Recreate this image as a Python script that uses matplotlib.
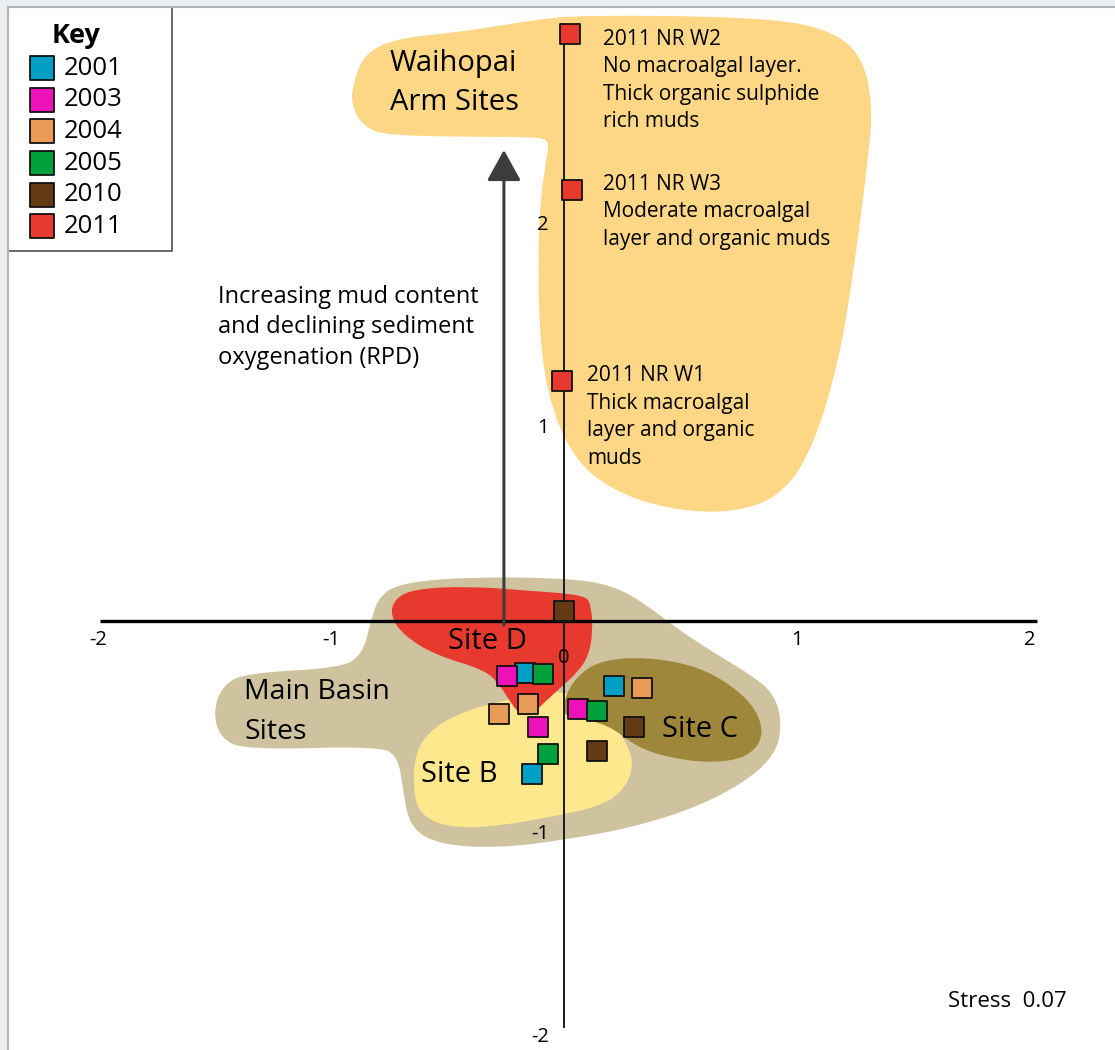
import numpy as np
import matplotlib
matplotlib.use('Agg')
import matplotlib.pyplot as plt
from matplotlib.path import Path
from matplotlib.patches import PathPatch, Rectangle

plt.rcParams['font.family'] = ['Open Sans', 'DejaVu Sans']

# ---- MDS ordination scores, per year (3 sites each) ----
years = ['2001', '2003', '2004', '2005', '2010', '2011']
year_colours = ['#00a0c6', '#ee10b8', '#e89a57', '#00a03c', '#623a14', '#e8392f']

x_2001 = [-0.167, -0.137, 0.215]
y_2001 = [-0.256, -0.754, -0.320]
x_2003 = [-0.245, -0.112, 0.060]
y_2003 = [-0.271, -0.522, -0.433]
x_2004 = [-0.155, -0.279, 0.335]
y_2004 = [-0.409, -0.458, -0.330]
x_2005 = [-0.090, -0.069, 0.142]
y_2005 = [-0.261, -0.655, -0.443]
x_2010 = [0.000, 0.300, 0.142]
y_2010 = [0.049, -0.522, -0.640]
x_2011 = [0.026, 0.034, -0.009]   # NR W2, NR W3, NR W1
y_2011 = [2.892, 2.123, 1.182]

# ---- hand drawn groupings (outline vertices, MDS units) ----
waihopai_x = [-0.910, -0.858, -0.712, -0.442, -0.129, 0.077, 0.807, 1.116, 1.275, 1.326,
              1.305, 1.240, 1.180, 1.077, 0.948, 0.742, 0.451, 0.202, 0.034, -0.077,
              -0.112, -0.107, -0.077, -0.064, -0.090, -0.172, -0.755, -0.858, -0.910]
waihopai_y = [2.631, 2.798, 2.872, 2.901, 2.961, 2.985, 2.975, 2.926, 2.798, 2.552,
              2.271, 1.695, 1.286, 0.877, 0.631, 0.532, 0.547, 0.645, 0.808, 1.123,
              1.532, 2.025, 2.271, 2.355, 2.379, 2.384, 2.389, 2.433, 2.532]

basin_x = [-1.506, -1.468, -1.369, -0.961, -0.867, -0.833, -0.798, -0.704, -0.416, 0.004,
           0.210, 0.356, 0.476, 0.639, 0.811, 0.906, 0.936, 0.906, 0.777, 0.562,
           0.283, -0.004, -0.275, -0.532, -0.661, -0.691, -0.712, -0.790, -1.369, -1.476]
basin_y = [-0.448, -0.320, -0.256, -0.232, -0.167, -0.020, 0.118, 0.187, 0.217, 0.212,
           0.177, 0.079, -0.030, -0.153, -0.271, -0.365, -0.512, -0.660, -0.793, -0.921,
           -1.020, -1.079, -1.118, -1.103, -1.020, -0.833, -0.670, -0.616, -0.635, -0.576]

site_b_x = [-0.648, -0.639, -0.567, -0.416, -0.245, -0.103, 0.013, 0.112, 0.206, 0.283,
            0.296, 0.249, 0.155, -0.017, -0.275, -0.489, -0.618]
site_b_y = [-0.833, -0.645, -0.527, -0.438, -0.389, -0.350, -0.350, -0.414, -0.498, -0.626,
            -0.734, -0.842, -0.911, -0.956, -1.010, -1.020, -0.956]

site_d_x = [-0.747, -0.725, -0.639, -0.416, -0.133, 0.090, 0.116, 0.124, 0.107, 0.060,
            -0.017, -0.082, -0.137, -0.180, -0.223, -0.275, -0.339, -0.554, -0.691]
site_d_y = [0.030, 0.113, 0.158, 0.172, 0.148, 0.128, 0.079, -0.044, -0.167, -0.251,
            -0.330, -0.399, -0.458, -0.468, -0.414, -0.315, -0.241, -0.167, -0.069]

site_c_x = [-0.004, 0.009, 0.069, 0.167, 0.356, 0.571, 0.725, 0.828, 0.858, 0.790,
            0.639, 0.455, 0.313, 0.210, 0.112, 0.026]
site_c_y = [-0.448, -0.355, -0.256, -0.192, -0.177, -0.222, -0.320, -0.438, -0.571, -0.670,
            -0.700, -0.675, -0.621, -0.527, -0.488, -0.478]

tick_vals = [-2, -1, 1, 2]


def blob(ax, xs, ys, colour, z):
    # closed smooth outline: quadratic curves through the edge midpoints
    pts = np.column_stack([xs, ys])
    mids = (pts + np.roll(pts, -1, axis=0)) / 2
    verts = [mids[-1]]
    codes = [Path.MOVETO]
    for i in range(len(pts)):
        verts += [pts[i], mids[i]]
        codes += [Path.CURVE3, Path.CURVE3]
    ax.add_patch(PathPatch(Path(verts, codes), facecolor=colour, edgecolor='none', zorder=z))


fig = plt.figure(figsize=(11.15, 10.5), dpi=100)
ax = fig.add_axes([0, 0, 1, 1])
ax.set_xlim(-2.421, 2.365)
ax.set_ylim(-2.113, 3.059)
ax.axis('off')

# page frame
fig.patches.append(Rectangle((0, 1 - 7 / 1050), 1, 7 / 1050, transform=fig.transFigure,
                             facecolor='#e9eef3', edgecolor='none', zorder=0))
fig.patches.append(Rectangle((0, 0), 8 / 1115, 1, transform=fig.transFigure,
                             facecolor='#e9eef3', edgecolor='none', zorder=0))
fig.lines.append(plt.Line2D([8 / 1115, 1], [1 - 7 / 1050] * 2, transform=fig.transFigure,
                            color='#b4b4b4', lw=1.5))
fig.lines.append(plt.Line2D([8 / 1115] * 2, [0, 1 - 7 / 1050], transform=fig.transFigure,
                            color='#b4b4b4', lw=1.5))

blob(ax, waihopai_x, waihopai_y, '#fdd785', 1)
blob(ax, basin_x, basin_y, '#cfc39f', 1)
blob(ax, site_b_x, site_b_y, '#fee78d', 2)
blob(ax, site_d_x, site_d_y, '#e8392f', 3)
blob(ax, site_c_x, site_c_y, '#9e863a', 3)

# axes
ax.plot([-1.99, 2.03], [0, 0], color='black', lw=2.4, zorder=5, solid_capstyle='butt')
ax.plot([0, 0], [-2, max(y_2011)], color='#1a1a1a', lw=1.4, zorder=5)
for v in tick_vals:
    ax.text(v, -0.094, str(v), ha='center', va='center', fontsize=14.5, zorder=6)
    ax.text(-0.065, v - 0.05, str(v), ha='right', va='center', fontsize=14.5, zorder=6)
ax.text(0, -0.182, '0', ha='center', va='center', fontsize=14.5, zorder=6)

# direction arrow
ax.annotate('', xy=(-0.258, 2.32), xytext=(-0.258, -0.02),
            arrowprops=dict(arrowstyle='-|>,head_length=1.9,head_width=1.05', mutation_scale=10,
                            lw=2.2, color='#3c3c3c', shrinkA=0, shrinkB=0), zorder=5)

# points
xs_all = [x_2001, x_2003, x_2004, x_2005, x_2010, x_2011]
ys_all = [y_2001, y_2003, y_2004, y_2005, y_2010, y_2011]
for lab, c, xs, ys in zip(years, year_colours, xs_all, ys_all):
    ax.scatter(xs, ys, s=205, marker='s', color=c, edgecolors='#111111', linewidths=1.3,
               label=lab, zorder=7)

# labels
ax.text(-0.747, 2.650, 'Waihopai\nArm Sites', fontsize=21, ha='left', va='center',
        linespacing=1.45, zorder=6)
ax.text(-1.373, -0.448, 'Main Basin\nSites', fontsize=20.5, ha='left', va='center',
        linespacing=1.55, zorder=6)
ax.text(-0.330, -0.099, 'Site D', fontsize=21, ha='center', va='center', zorder=6)
ax.text(-0.451, -0.754, 'Site B', fontsize=21, ha='center', va='center', zorder=6)
ax.text(0.584, -0.532, 'Site C', fontsize=21, ha='center', va='center', zorder=6)

ax.text(0.167, 2.663, '2011 NR W2\nNo macroalgal layer.\nThick organic sulphide\nrich muds',
        fontsize=15, ha='left', va='center', linespacing=1.4, zorder=6)
ax.text(0.167, 2.015, '2011 NR W3\nModerate macroalgal\nlayer and organic muds',
        fontsize=15, ha='left', va='center', linespacing=1.4, zorder=6)
ax.text(0.099, 1.005, '2011 NR W1\nThick macroalgal\nlayer and organic\nmuds',
        fontsize=15, ha='left', va='center', linespacing=1.4, zorder=6)
ax.text(-1.485, 1.446, 'Increasing mud content\nand declining sediment\noxygenation (RPD)',
        fontsize=17, ha='left', va='center', linespacing=1.38, zorder=6)
ax.text(1.648, -1.872, 'Stress  0.07', fontsize=16, ha='left', va='center', zorder=6)

# key
ax.add_patch(Rectangle((8 / 1115, 1 - 251 / 1050), 164 / 1115, 244 / 1050,
                       transform=ax.transAxes, facecolor='white',
                       edgecolor='#505050', lw=1.2, zorder=8))
leg = ax.legend(loc='upper left', bbox_to_anchor=(29 / 1115, 1 - 23 / 1050), frameon=False,
                fontsize=18.5, title='Key', title_fontproperties={'weight': 'bold', 'size': 19.5},
                scatterpoints=1, markerscale=1.2, handletextpad=0.35, labelspacing=0.26,
                borderaxespad=0, borderpad=0, handlelength=1.0)
leg.set_zorder(9)

fig.savefig('out.png', dpi=100)
